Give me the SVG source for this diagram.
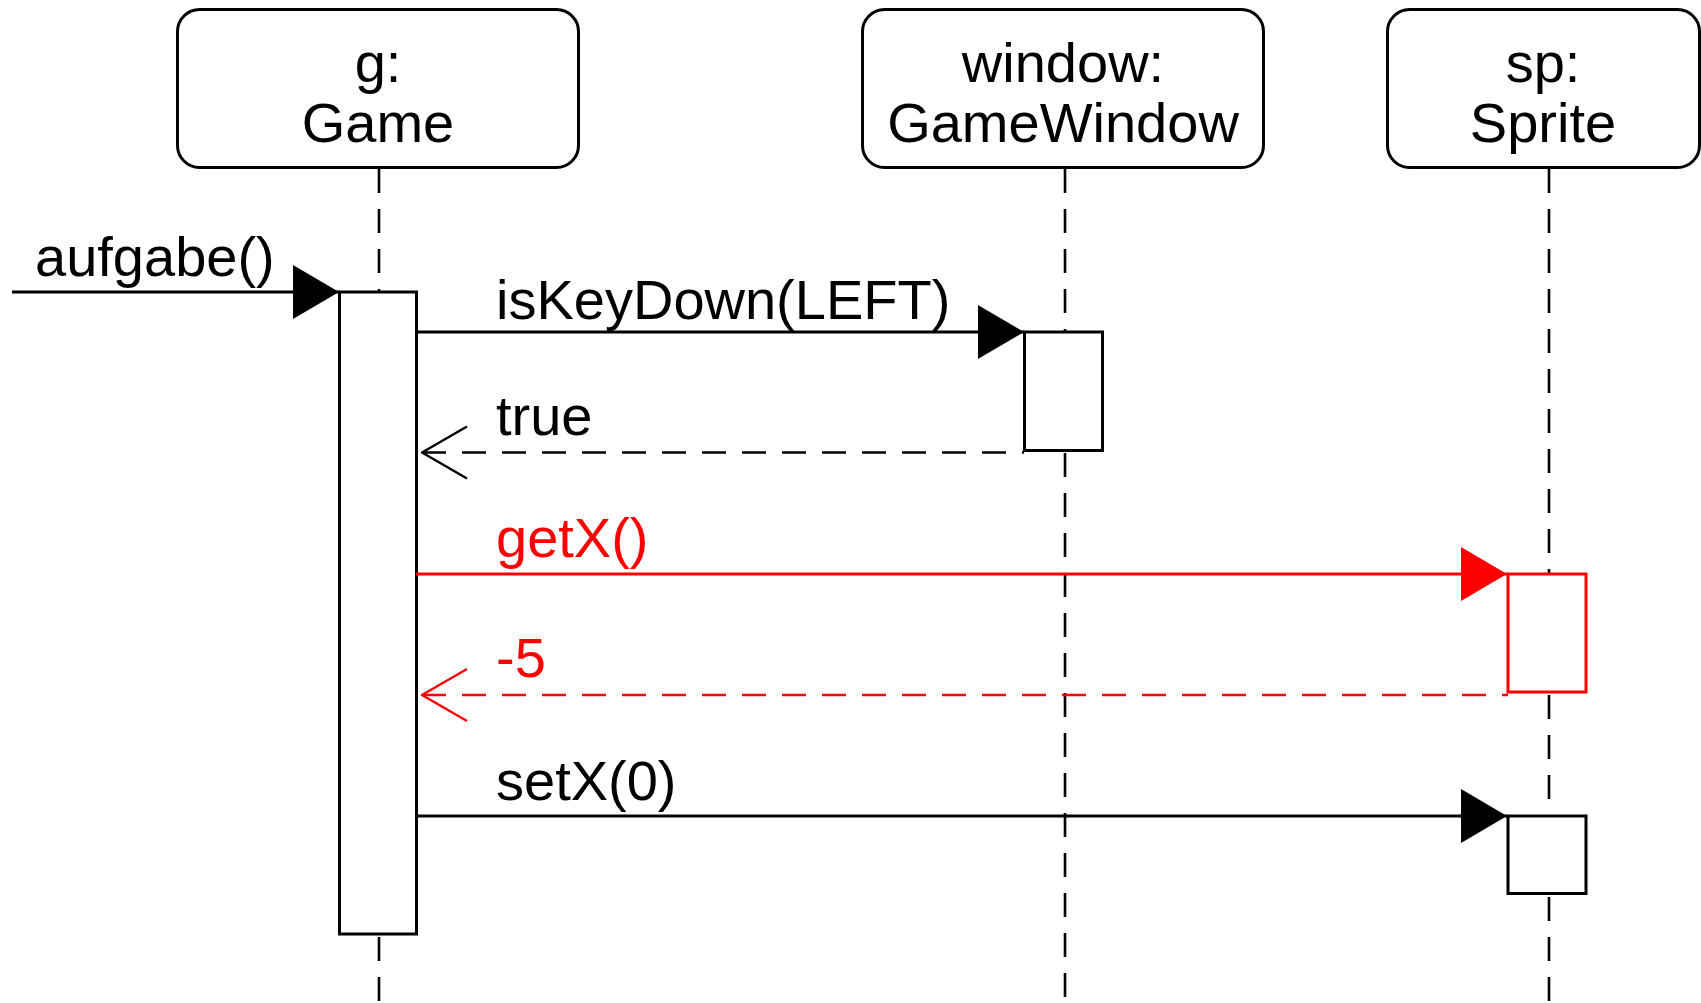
<svg xmlns="http://www.w3.org/2000/svg" width="1701" height="1003" viewBox="0 0 1701 1003">
<style>
.head{fill:#fff;stroke:#000;stroke-width:3}
.t{font-family:"Liberation Sans",Arial,sans-serif;font-size:56px;fill:#000}
.c{text-anchor:middle}
.red{fill:#f00}
.life{stroke:#000;stroke-width:2.6;stroke-dasharray:24 16;fill:none}
.act{fill:#fff;stroke:#000;stroke-width:3}
.actr{fill:#fff;stroke:#f00;stroke-width:3}
.msg{stroke:#000;stroke-width:3;fill:none}
.msgr{stroke:#f00;stroke-width:3;fill:none}
.ret{stroke:#000;stroke-width:2.6;stroke-dasharray:24 16;fill:none}
.retr{stroke:#f00;stroke-width:2.6;stroke-dasharray:24 16;fill:none}
</style>
<defs>
<marker id="fill" markerUnits="userSpaceOnUse" viewBox="0 0 46 54" markerWidth="46" markerHeight="54" refX="46" refY="27" orient="auto">
<path d="M0,0 L46,27 L0,54 Z" fill="#000"/>
</marker>
<marker id="fillr" markerUnits="userSpaceOnUse" viewBox="0 0 46 54" markerWidth="46" markerHeight="54" refX="46" refY="27" orient="auto">
<path d="M0,0 L46,27 L0,54 Z" fill="#f00"/>
</marker>
<marker id="open" markerUnits="userSpaceOnUse" viewBox="0 0 50 60" markerWidth="50" markerHeight="60" refX="1" refY="30" orient="auto">
<path d="M46,4 L1,30 L46,56" fill="none" stroke="#000" stroke-width="2.4"/>
</marker>
<marker id="openr" markerUnits="userSpaceOnUse" viewBox="0 0 50 60" markerWidth="50" markerHeight="60" refX="1" refY="30" orient="auto">
<path d="M46,4 L1,30 L46,56" fill="none" stroke="#f00" stroke-width="2.4"/>
</marker>
</defs>

<g id="lifelines">
<path class="life" d="M379,169 V292 M379,937 V1003"/>
<path class="life" d="M1065,169 V332 M1065,453 V1003"/>
<path class="life" d="M1549,169 V574 M1549,695 V816 M1549,897 V1003"/>
</g>

<g id="node-game">
<rect class="head" x="177.5" y="9.5" width="401" height="158" rx="22" ry="22"/>
<text class="t c" x="378" y="82">g:</text>
<text class="t c" x="378" y="141.5">Game</text>
</g>
<g id="node-window">
<rect class="head" x="862.5" y="9.5" width="401" height="158" rx="22" ry="22"/>
<text class="t c" x="1063" y="82">window:</text>
<text class="t c" x="1063" y="141.5">GameWindow</text>
</g>
<g id="node-sprite">
<rect class="head" x="1387.5" y="9.5" width="312" height="158" rx="22" ry="22"/>
<text class="t c" x="1543" y="82">sp:</text>
<text class="t c" x="1543" y="141.5">Sprite</text>
</g>

<g id="activations">
<rect class="act" x="339.5" y="292" width="77" height="642"/>
<rect class="act" x="1024.5" y="332" width="78" height="118.5"/>
<rect class="actr" x="1508" y="574" width="78" height="118"/>
<rect class="act" x="1508" y="816" width="78" height="77.5"/>
</g>

<g id="connectors">
<path class="msg" d="M12,292 H339" marker-end="url(#fill)"/>
<path class="msg" d="M416,332 H1024" marker-end="url(#fill)"/>
<path class="ret" d="M422,452.5 H1024" marker-start="url(#open)"/>
<path class="msgr" d="M416,574 H1507" marker-end="url(#fillr)"/>
<path class="retr" d="M422,695 H1508" marker-start="url(#openr)"/>
<path class="msg" d="M416,816 H1507" marker-end="url(#fill)"/>
</g>

<g id="labels">
<text class="t" x="35" y="276">aufgabe()</text>
<text class="t" x="496" y="319">isKeyDown(LEFT)</text>
<text class="t" x="496" y="435">true</text>
<text class="t red" x="496" y="557">getX()</text>
<text class="t red" x="496" y="677">-5</text>
<text class="t" x="496" y="800">setX(0)</text>
</g>
</svg>
